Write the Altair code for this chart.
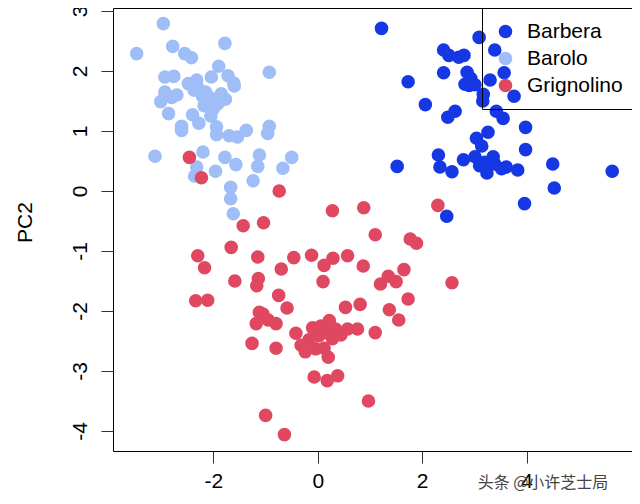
import altair as alt
import pandas as pd

# Barolo (PC1, PC2)
barolo_pc1 = [-2.96, -3.47, -2.78, -2.55, -2.42, -1.78, -0.93, -2.93, -2.76, -1.90,
              -2.04, -1.72, -1.61, -2.48, -2.32, -2.93, -3.01, -2.80, -2.37, -2.21,
              -2.10, -2.00, -1.77, -1.91, -2.86, -2.40, -2.28, -2.61, -2.61, -1.94,
              -1.94, -1.70, -1.54, -1.37, -0.93, -0.96, -3.12, -2.20, -1.78, -1.57,
              -1.12, -1.15, -0.50, -0.67, -2.32, -2.36, -1.96, -1.24, -1.67, -1.67,
              -1.62, -2.30, -2.15, -2.05, -1.85, -2.18, -2.05, -1.60, -2.70]
barolo_pc2 = [2.79, 2.29, 2.41, 2.29, 2.22, 2.46, 1.98, 1.90, 1.91, 2.08,
              1.90, 1.92, 1.80, 1.79, 1.85, 1.65, 1.49, 1.56, 1.68, 1.58,
              1.48, 1.37, 1.53, 1.46, 1.29, 1.27, 1.13, 1.08, 1.01, 1.07,
              0.94, 0.92, 0.90, 1.01, 1.08, 0.96, 0.58, 0.65, 0.56, 0.44,
              0.60, 0.41, 0.56, 0.38, 0.40, 0.25, 0.33, 0.17, 0.06, -0.13,
              -0.38, 1.72, 1.65, 1.55, 1.62, 1.42, 1.25, 1.75, 1.60]

# Grignolino (PC1, PC2)
grig_pc1 = [-2.46, -2.23, -0.74, 0.28, 0.88, -1.43, -1.04, -1.66, -2.30, -2.17,
            -1.15, -0.46, -0.12, 0.29, 0.12, 0.57, 0.87, -1.59, -0.70, -1.14,
            -1.17, 0.10, -2.34, -2.11, -0.75, -0.59, -1.12, -1.05, -1.18, -0.80,
            -0.42, -0.10, 0.22, 0.15, 0.28, 0.34, 0.57, 0.76, 0.02, 0.53,
            0.81, -1.26, -0.80, -0.24, -0.04, 0.12, 0.20, -0.07, 0.18, 0.38,
            -1.00, -0.64, 0.97, 2.30, 1.10, 1.77, 1.89, 1.65, 1.35, 1.20,
            1.50, 2.57, 1.73, 1.37, 1.55, 1.10, 0.06, 0.44, -0.17, -0.32, -0.95]
grig_pc2 = [0.56, 0.22, 0.00, -0.33, -0.28, -0.58, -0.53, -0.94, -1.08, -1.28,
            -1.10, -1.11, -1.07, -1.12, -1.24, -1.08, -1.25, -1.50, -1.30, -1.46,
            -1.58, -1.51, -1.83, -1.82, -1.74, -1.95, -2.02, -2.05, -2.21, -2.21,
            -2.37, -2.28, -2.16, -2.36, -2.46, -2.30, -2.30, -2.30, -2.41, -1.94,
            -1.89, -2.54, -2.62, -2.68, -2.63, -2.62, -2.77, -3.10, -3.16, -3.08,
            -3.74, -4.06, -3.50, -0.24, -0.73, -0.80, -0.87, -1.31, -1.42, -1.55,
            -1.51, -1.53, -1.80, -1.98, -2.15, -2.36, -2.25, -2.40, -2.48, -2.57, -2.15]

# Barbera (PC1, PC2)
barbera_pc1 = [1.22, 3.09, 2.41, 2.51, 2.70, 2.80, 3.39, 1.73, 2.41, 2.86,
               2.93, 2.90, 3.01, 2.82, 3.30, 3.57, 3.17, 3.16, 3.76, 2.06,
               2.49, 2.63, 3.42, 3.55, 3.98, 3.26, 3.04, 3.14, 3.98, 2.31,
               2.34, 2.57, 2.79, 3.01, 3.10, 3.24, 3.36, 3.52, 3.61, 3.83,
               1.52, 4.50, 4.53, 5.64, 3.96, 2.47, 3.20, 3.39]
barbera_pc2 = [2.71, 2.56, 2.35, 2.26, 2.23, 2.26, 2.35, 1.82, 1.97, 1.98,
               1.88, 1.76, 1.77, 1.78, 1.85, 1.97, 1.61, 1.50, 1.58, 1.44,
               1.23, 1.33, 1.33, 1.21, 1.06, 0.98, 0.88, 0.75, 0.69, 0.60,
               0.40, 0.32, 0.52, 0.57, 0.42, 0.30, 0.57, 0.37, 0.40, 0.35,
               0.41, 0.45, 0.05, 0.33, -0.21, -0.42, 0.48, 0.45]

classes = ["Barbera", "Barolo", "Grignolino"]
colors = ["#1538e4", "#9fbdf6", "#e04862"]
x_ticks = [-2, 0, 2, 4]
y_ticks = [-4, -3, -2, -1, 0, 1, 2, 3]

rows = []
for a, b in zip(barolo_pc1, barolo_pc2):
    rows.append({"PC1": a, "PC2": b, "Type": "Barolo"})
for a, b in zip(grig_pc1, grig_pc2):
    rows.append({"PC1": a, "PC2": b, "Type": "Grignolino"})
for a, b in zip(barbera_pc1, barbera_pc2):
    rows.append({"PC1": a, "PC2": b, "Type": "Barbera"})
df = pd.DataFrame(rows)
df["order"] = range(len(df))

FONT = "Liberation Sans"

points = alt.Chart(df).mark_circle(size=185, opacity=1).encode(
    x=alt.X("PC1:Q",
            scale=alt.Scale(domain=[-3.924, 6.019], nice=False, zero=False),
            axis=alt.Axis(values=x_ticks, title=None, grid=False, domain=False,
                          tickSize=12, tickColor="#333", labelPadding=7,
                          labelExpr="datum.value + ''",
                          labelFontSize=21, labelFont=FONT, labelColor="black")),
    y=alt.Y("PC2:Q",
            scale=alt.Scale(domain=[-4.333, 3.05], nice=False, zero=False),
            axis=alt.Axis(values=y_ticks, title="PC2", grid=False, domain=False,
                          tickSize=12, tickColor="#333", labelPadding=15,
                          labelExpr="datum.value + ''",
                          labelAngle=270, labelAlign="center", labelBaseline="alphabetic",
                          labelFontSize=21, labelFont=FONT, labelColor="black",
                          titleFont=FONT, titleFontSize=21, titleFontWeight="normal",
                          titleColor="black", titleAngle=270, titleAlign="center",
                          titleBaseline="middle", titleX=-88, titleY=214)),
    color=alt.Color("Type:N",
                    scale=alt.Scale(domain=classes, range=colors),
                    legend=alt.Legend(title=None, orient="none", legendX=369, legendY=0,
                                      symbolType="circle", symbolSize=185,
                                      symbolStrokeWidth=0, symbolOpacity=1,
                                      labelFontSize=21, labelFont=FONT, labelColor="black",
                                      labelOffset=11, rowPadding=5, padding=13,
                                      strokeColor="black", cornerRadius=0)),
    order=alt.Order("order:Q"),
)

watermark = alt.Chart(pd.DataFrame({"t": ["头条 @小许芝士局"]})).mark_text(
    font="Noto Sans CJK SC", fontSize=16, color="#444", align="center", baseline="middle"
).encode(text="t:N", x=alt.value(430), y=alt.value(475))

chart = alt.layer(points, watermark).properties(
    width=519, height=443,
    autosize=alt.AutoSizeParams(type="none"),
    padding={"left": 105, "top": 0, "right": 0, "bottom": 45},
).configure_view(stroke="black", strokeWidth=1)

chart.save("out.html", embed_options={"renderer": "svg", "actions": False})
